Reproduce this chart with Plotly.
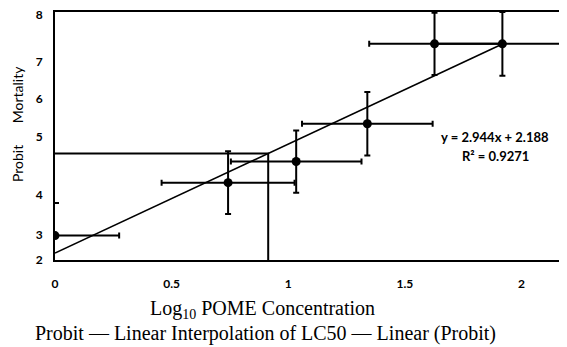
import plotly.graph_objects as go

# ---- data ----
log_conc = [0.0, 0.742, 1.034, 1.339, 1.627, 1.918]
probit = [2.66, 4.09, 4.66, 5.68, 7.84, 7.84]
x_err = [0.275, 0.285, 0.28, 0.28, 0.28, 0.28]
y_err = [0.0, 0.85, 0.84, 0.86, 0.84, 0.86]

slope = 2.944
intercept = 2.188
r2 = 0.9271

lc50_x = 0.914
lc50_y = 4.88

y_tick_vals = [2.0, 2.69, 3.77, 5.33, 6.35, 7.35, 8.63]
y_tick_text = ["2", "3", "4", "5", "6", "7", "8"]
x_tick_vals = [0, 0.5, 1, 1.5, 2]
x_tick_text = ["0", "0.5", "1", "1.5", "2"]

X_RANGE = [0, 2.195]
Y_RANGE = [2, 8.70]

fig = go.Figure()

# LC50 interpolation lines
fig.add_trace(go.Scatter(
    x=[X_RANGE[0], lc50_x, lc50_x], y=[lc50_y, lc50_y, Y_RANGE[0]],
    mode="lines", line=dict(color="black", width=2), showlegend=False,
    hoverinfo="skip"))

# Linear trend line
x_line = [min(log_conc), max(log_conc)]
y_line = [slope * v + intercept for v in x_line]
fig.add_trace(go.Scatter(
    x=x_line, y=y_line, mode="lines",
    line=dict(color="black", width=1.6), showlegend=False, hoverinfo="skip"))

# data points with error bars
fig.add_trace(go.Scatter(
    x=log_conc, y=probit, mode="markers",
    marker=dict(color="black", size=9),
    error_x=dict(type="data", array=x_err, color="black", thickness=2, width=3),
    error_y=dict(type="data", array=y_err, color="black", thickness=2, width=3),
    showlegend=False, cliponaxis=True))

# small inside tick on the left axis
fig.add_trace(go.Scatter(x=[None], y=[None], yaxis="y2", showlegend=False))

font_sans = "Lato, Open Sans, sans-serif"
font_serif = "Liberation Serif, Times New Roman, serif"

# page has an 8px body margin; size the figure so it fits the window exactly
fig.update_layout(
    width=559, height=339,
    margin=dict(l=47, r=0, t=4, b=87, autoexpand=False),
    paper_bgcolor="white", plot_bgcolor="white",
    xaxis=dict(range=X_RANGE, showgrid=False, zeroline=False, automargin=False,
               showline=True, linecolor="black", linewidth=2, mirror=True,
               tickvals=x_tick_vals, ticktext=x_tick_text, ticks="",
               tickfont=dict(family=font_sans, size=12, color="black", weight="bold"),
               ticklabelstandoff=12),
    yaxis=dict(range=Y_RANGE, showgrid=False, zeroline=False, automargin=False,
               showline=True, linecolor="black", linewidth=2,
               tickvals=y_tick_vals, ticktext=y_tick_text, ticks="",
               ticklabeloverflow="allow",
               tickfont=dict(family=font_sans, size=12, color="black", weight="bold"),
               ticklabelstandoff=8),
    yaxis2=dict(range=Y_RANGE, overlaying="y", side="left", showgrid=False,
                automargin=False,
                zeroline=False, showline=False, tickvals=[3.53], ticks="inside",
                ticklen=4, tickwidth=1.5, tickcolor="black", showticklabels=False),
    showlegend=False,
)

# positions below are page pixels; plot area spans these page pixels
PLOT_TOP, PLOT_BOTTOM, PLOT_LEFT, PLOT_RIGHT = 12, 260, 55, 567
def py(p):
    return (PLOT_BOTTOM - p) / (PLOT_BOTTOM - PLOT_TOP)
def px(p):
    return (p - PLOT_LEFT) / (PLOT_RIGHT - PLOT_LEFT)

def note(text, x, y, font, angle=0):
    fig.add_annotation(text=text, x=px(x), y=py(y), xref="paper", yref="paper",
                       xanchor="center", yanchor="middle", showarrow=False,
                       textangle=angle, font=font)

bold13 = dict(family=font_sans, size=13, color="black", weight="bold")
note(f"y = {slope}x + {intercept}", 495, 137, bold13)
note(f"R² = {r2}", 495, 156, bold13)
note("Probit      Mortality", 17, 124, dict(family=font_sans, size=14, color="black"), -90)
note("Log<sub>10</sub> POME Concentration", 262, 309,
     dict(family=font_serif, size=20, color="black"))
note("Probit \u2014 Linear Interpolation of LC50 \u2014 Linear (Probit)", 265, 333,
     dict(family=font_serif, size=20, color="black"))

fig.write_html("out.html")
